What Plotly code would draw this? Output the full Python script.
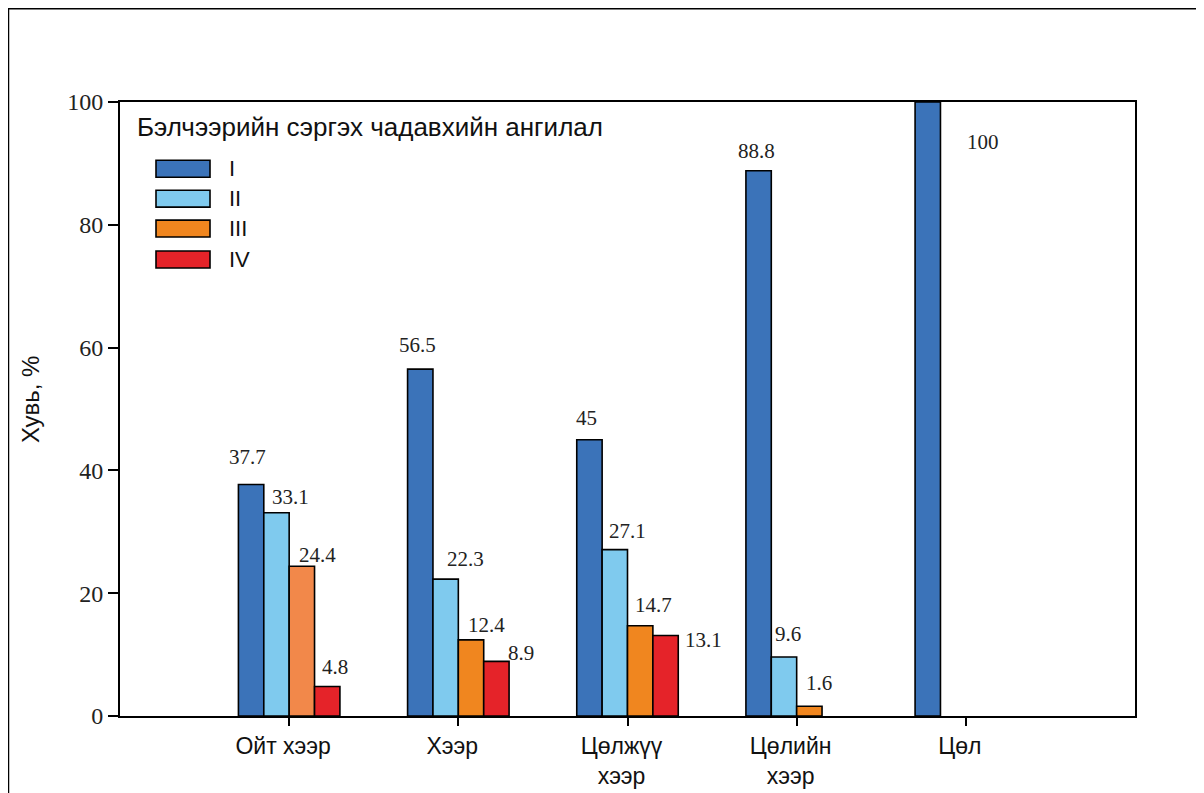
import plotly.graph_objects as go

categories = ["Ойт хээр", "Хээр", "Цөлжүү хээр", "Цөлийн хээр", "Цөл"]
tick_text = ["Ойт хээр", "Хээр", "Цөлжүү<br>хээр", "Цөлийн<br>хээр", "Цөл"]
series_names = ["I", "II", "III", "IV"]
values_I = [37.7, 56.5, 45, 88.8, 100]
values_II = [33.1, 22.3, 27.1, 9.6, None]
values_III = [24.4, 12.4, 14.7, 1.6, None]
values_IV = [4.8, 8.9, 13.1, None, None]
y_ticks = [0, 20, 40, 60, 80, 100]
legend_title = "Бэлчээрийн сэргэх чадавхийн ангилал"
y_title = "Хувь, %"

series_values = [values_I, values_II, values_III, values_IV]
colors = ["#3B73B9", "#7FCAEE", "#F0861F", "#E52329"]
iii_colors = ["#F2884A", "#F0861F", "#F0861F", "#F0861F", "#F0861F"]

# label offsets (px) from bar-top centre: (dx, dy up)
label_offsets = [
    [(-4, 28), (-3, 24), (-3, 22), (-2, 20), (55, -40)],
    [(14, 16), (20, 20), (13, 19), (4, 23), None],
    [(16, 11), (15, 15), (13, 21), (10, 23), None],
    [(8, 20), (25, 8), (38, -4), None, None],
]

OFF = 8  # page body margin
W, H = 1204, 793
L, T = 120 - OFF, 102 - OFF
R = W - (1135 - OFF)
B = H - (718 - OFF)
pw, ph = W - L - R, H - T - B

fig = go.Figure()
idx = list(range(len(categories)))
for k, (name, vals) in enumerate(zip(series_names, series_values)):
    fig.add_trace(go.Bar(
        x=idx, y=vals, name=name,
        marker=dict(color=iii_colors if k == 2 else colors[k],
                    line=dict(color="black", width=1.6)),
        showlegend=False,
    ))

bar_w = 0.6 / 4
annotations = []
for k, vals in enumerate(series_values):
    for i, v in enumerate(vals):
        if v is None:
            continue
        dx, dy = label_offsets[k][i]
        annotations.append(dict(
            x=i + (k - 1.5) * bar_w, y=v, xref="x", yref="y",
            text=f"{v:g}", showarrow=False, xshift=dx, yshift=dy,
            font=dict(family="Liberation Serif", size=21, color="#222"),
        ))

def px_to_paper(x, y):
    # x, y in page pixels of the reference
    x -= OFF
    y -= OFF
    return (x - L) / pw, (H - B - y) / ph

# legend (drawn)
shapes = []
tx, ty = px_to_paper(135, 127)
annotations.append(dict(x=tx, y=ty, xref="paper", yref="paper", text=legend_title,
                        showarrow=False, xanchor="left", yanchor="middle",
                        font=dict(family="Liberation Sans", size=26, color="#111")))
row_y = [169, 199, 229, 260]
for k, name in enumerate(series_names):
    x0, y0 = px_to_paper(156, row_y[k] - 8.5)
    x1, y1 = px_to_paper(210, row_y[k] + 8.5)
    shapes.append(dict(type="rect", xref="paper", yref="paper", x0=x0, x1=x1, y0=y0, y1=y1,
                       fillcolor=colors[k], line=dict(color="black", width=1.6)))
    lx, ly = px_to_paper(227, row_y[k])
    annotations.append(dict(x=lx, y=ly, xref="paper", yref="paper", text=name,
                            showarrow=False, xanchor="left", yanchor="middle",
                            font=dict(family="Liberation Sans", size=22, color="#111")))

# outer frame (left and top edges)
fx0, fy0 = px_to_paper(8, 8)
fx1, fy1 = px_to_paper(1230, 820)
shapes.append(dict(type="line", xref="paper", yref="paper", x0=fx0, x1=fx0, y0=fy0, y1=fy1,
                   line=dict(color="black", width=2.5)))
shapes.append(dict(type="line", xref="paper", yref="paper", x0=fx0, x1=fx1, y0=fy0, y1=fy0,
                   line=dict(color="black", width=2.5)))

# y title
yx, yy = px_to_paper(30, 401)
annotations.append(dict(x=yx, y=yy, xref="paper", yref="paper", text=y_title,
                        showarrow=False, textangle=-90, xanchor="center", yanchor="middle",
                        font=dict(family="Liberation Sans", size=24, color="#111")))

fig.update_layout(
    width=W, height=H,
    margin=dict(l=L, r=R, t=T, b=B, pad=0),
    paper_bgcolor="white", plot_bgcolor="white",
    barmode="group", bargap=0.4, bargroupgap=0,
    annotations=annotations, shapes=shapes,
    showlegend=False,
)
fig.update_xaxes(
    range=[-1, 5], tickmode="array", tickvals=idx, ticktext=tick_text,
    ticks="outside", ticklen=8, tickwidth=2, tickcolor="black",
    showline=True, linecolor="black", linewidth=2, mirror=True,
    showgrid=False, zeroline=False, ticklabelshift=-6,
    tickfont=dict(family="Liberation Sans", size=23, color="#111"),
)
fig.update_yaxes(
    range=[0, 100], tickvals=y_ticks,
    ticks="outside", ticklen=10, tickwidth=2, tickcolor="black",
    showline=True, linecolor="black", linewidth=2, mirror=True,
    showgrid=False, zeroline=False,
    tickfont=dict(family="Liberation Serif", size=24, color="#222"),
)

fig.write_html("out.html")
